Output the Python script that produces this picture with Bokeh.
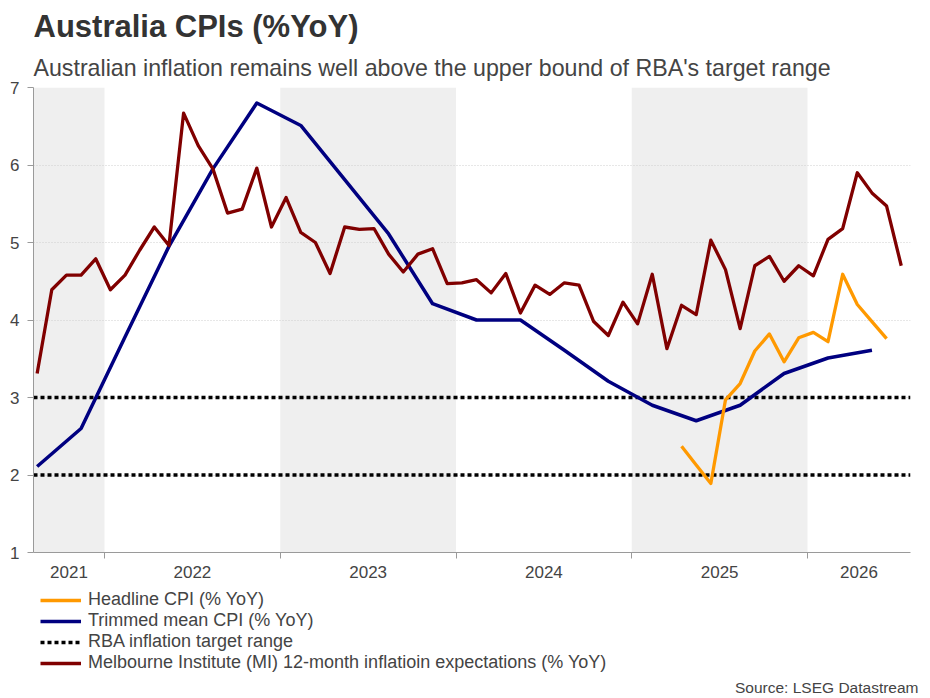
import pandas as pd
from bokeh.plotting import figure
from bokeh.layouts import column
from bokeh.models import (FixedTicker, Legend, LegendItem, Title, Range1d)
from bokeh.embed import file_html
from bokeh.resources import INLINE

# ---------------- data ----------------
years = [2021, 2022, 2023, 2024, 2025, 2026]
year_labels = ["2021", "2022", "2023", "2024", "2025", "2026"]
shaded_years = [2021, 2023, 2025]

# Melbourne Institute 12-month inflation expectations (monthly, from 2021-08)
mi_start = "2021-08"
mi_values = [3.31, 4.39, 4.58, 4.58, 4.79, 4.39, 4.58, 4.90, 5.20, 4.96,
             6.67, 6.25, 5.95, 5.38, 5.43, 5.96, 5.20, 5.58, 5.13, 5.00,
             4.60, 5.20, 5.17, 5.18, 4.85, 4.62, 4.85, 4.92, 4.47, 4.48,
             4.52, 4.35, 4.60, 4.09, 4.45, 4.33, 4.48, 4.45, 3.98, 3.80,
             4.23, 3.95, 4.59, 3.63, 4.19, 4.07, 5.03, 4.65, 3.89, 4.70,
             4.82, 4.50, 4.70, 4.57, 5.04, 5.18, 5.90, 5.64, 5.47, 4.70]

# Trimmed mean CPI (quarterly, from 2021-08)
trimmed_start = "2021-08"
trimmed_values = [2.11, 2.60, 3.78, 4.95, 5.95, 6.80, 6.51, 5.81, 5.11, 4.21,
                  4.00, 4.00, 3.61, 3.21, 2.90, 2.70, 2.90, 3.31, 3.51, 3.61]

# Headline CPI (monthly, from 2025-04)
headline_start = "2025-04"
headline_values = [2.37, 2.13, 1.89, 2.97, 3.18, 3.60, 3.82, 3.46, 3.77, 3.84,
                   3.72, 4.59, 4.20, 3.98, 3.76]

rba_target = [2, 3]

series_labels = ["Headline CPI (% YoY)", "Trimmed mean CPI (% YoY)",
                 "RBA inflation target range",
                 "Melbourne Institute (MI) 12-month inflatioin expectations (% YoY)"]
source_text = "Source: LSEG Datastream"

# ---------------- helpers ----------------
def month_positions(start, n, step=1, day_frac=0.4):
    y, m = map(int, start.split("-"))
    return [y + (m - 1 + i * step + day_frac) / 12.0 for i in range(n)]

X_START, X_END = 2021.596, 2026.586
FONT = "Liberation Sans"
TXT = "#444444"
AX = "#9a9a9a"
C_HD, C_TR, C_MI = "#FF9900", "#000080", "#800000"
STY_HD = dict(line_color=C_HD, line_width=3.3, line_join="round")
STY_TR = dict(line_color=C_TR, line_width=3.5, line_join="round")
STY_MI = dict(line_color=C_MI, line_width=3.3, line_join="round")
STY_RBA = dict(line_color="black", line_width=3.5, line_dash="4 3")

mi_x = month_positions(mi_start, len(mi_values))
tr_x = month_positions(trimmed_start, len(trimmed_values), step=3)
hd_x = month_positions(headline_start, len(headline_values))

# ---------------- main chart ----------------
p = figure(frame_width=877, frame_height=465, x_range=Range1d(X_START, X_END),
           y_range=Range1d(1, 7), output_backend="svg", toolbar_location=None,
           title=None, min_border_left=33, min_border_right=20,
           min_border_top=87, min_border_bottom=36)
p.outline_line_color = None
p.background_fill_color = "white"

sh_left = [max(y, X_START) for y in shaded_years]
sh_right = [min(y + 1, X_END) for y in shaded_years]
p.quad(left=sh_left, right=sh_right, bottom=1, top=7, fill_color="#efefef",
       line_color=None, level="image")

p.segment(x0=[X_START] * len(rba_target), x1=[X_END] * len(rba_target),
          y0=rba_target, y1=rba_target, **STY_RBA)
p.line(tr_x, trimmed_values, **STY_TR)
p.line(mi_x, mi_values, **STY_MI)
p.line(hd_x, headline_values, **STY_HD)

bounds = [y for y in years[1:]]
label_pos = []
for y in years:
    lo, hi = max(y, X_START), min(y + 1, X_END)
    label_pos.append(round((lo + hi) / 2.0, 4))
p.xaxis.ticker = FixedTicker(ticks=label_pos, minor_ticks=bounds)
p.xaxis.major_label_overrides = {pos: lab for pos, lab in zip(label_pos, year_labels)}
p.xaxis.major_tick_line_color = None
p.xaxis.major_tick_out = 0
p.xaxis.major_tick_in = 0
p.xaxis.minor_tick_line_color = AX
p.xaxis.minor_tick_out = 6
p.xaxis.minor_tick_in = 0
p.xaxis.major_label_standoff = 7
p.xaxis.axis_line_color = AX

p.yaxis.ticker = FixedTicker(ticks=[1, 2, 3, 4, 5, 6, 7])
p.yaxis.minor_tick_line_color = None
p.yaxis.major_tick_out = 6
p.yaxis.major_tick_in = 0
p.yaxis.major_tick_line_color = AX
p.yaxis.axis_line_color = AX
p.yaxis.major_label_standoff = 8

for ax in (p.xaxis, p.yaxis):
    ax.major_label_text_font = FONT
    ax.major_label_text_font_size = "17px"
    ax.major_label_text_color = TXT

p.xgrid.grid_line_color = None
p.ygrid.grid_line_color = "#cfcfcf"
p.ygrid.grid_line_dash = "1 2"
p.ygrid.grid_line_width = 1

sub = Title(text="Australian inflation remains well above the upper bound of RBA's target range",
            align="left", text_font=FONT, text_font_size="23.2px",
            text_font_style="normal", text_color=TXT, standoff=14)
p.add_layout(sub, "above")
main = Title(text="Australia CPIs (%YoY)", align="left", text_font=FONT,
             text_font_size="31px", text_font_style="bold", text_color="#333333",
             standoff=4)
p.add_layout(main, "above")

# ---------------- legend + source strip ----------------
q = figure(width=930, height=110, x_range=Range1d(0, 1), y_range=Range1d(0, 1),
           output_backend="svg", toolbar_location=None, title=None,
           x_axis_location=None, y_axis_location=None,
           min_border_left=33, min_border_right=20, min_border_top=0,
           min_border_bottom=22)
q.outline_line_color = None
q.xgrid.visible = False
q.ygrid.visible = False

nan = [float("nan")]
k_hd = q.line(x=nan, y=nan, **STY_HD)
k_tr = q.line(x=nan, y=nan, **STY_TR)
k_rba = q.segment(x0=nan, x1=nan, y0=nan, y1=nan, **STY_RBA)
k_mi = q.line(x=nan, y=nan, **STY_MI)

legend = Legend(items=[LegendItem(label=lab, renderers=[r]) for lab, r in
                       zip(series_labels, [k_hd, k_tr, k_rba, k_mi])],
                location=(7, 3), orientation="vertical")
legend.border_line_color = None
legend.background_fill_alpha = 0
legend.label_text_font = FONT
legend.label_text_font_size = "18px"
legend.label_text_color = TXT
legend.glyph_width = 41
legend.glyph_height = 20
legend.label_height = 20
legend.spacing = 0
legend.padding = 0
legend.margin = 0
legend.label_standoff = 7
q.add_layout(legend, "center")

q.add_layout(Title(text=source_text, align="right", text_font=FONT,
                   text_font_size="15.5px", text_font_style="normal",
                   text_color=TXT, offset=-8, standoff=0), "below")

layout = column(p, q, spacing=0)
open("out.html", "w").write(file_html(layout, INLINE))
